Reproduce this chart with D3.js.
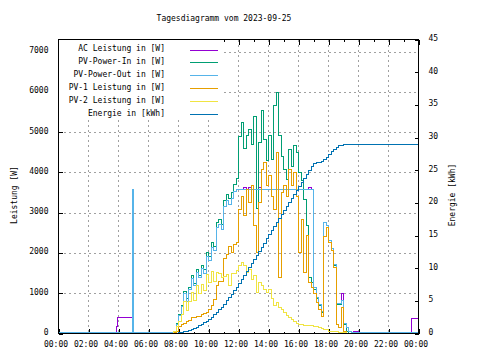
<!DOCTYPE html>
<html><head><meta charset="utf-8">
<script src="https://cdn.jsdelivr.net/npm/d3@7/dist/d3.min.js"></script>
<style>
body{margin:0;background:#fff}
svg{display:block}
text{font-family:"DejaVu Sans Mono",monospace;font-size:8px;fill:#000}
</style>
</head><body>
<svg id="c" width="480" height="360"></svg>
<script>
const title = "Tagesdiagramm vom 2023-09-25";
const xTickLabels = ["00:00","02:00","04:00","06:00","08:00","10:00","12:00","14:00","16:00","18:00","20:00","22:00","00:00"];
const leftTicks = [0,1000,2000,3000,4000,5000,6000,7000];
const rightTicks = [0,5,10,15,20,25,30,35,40,45];
const seriesNames = ["AC Leistung in [W]","PV-Power-In in [W]","PV-Power-Out in [W]","PV-1 Leistung in [W]","PV-2 Leistung in [W]","Energie in [kWh]"];
const seriesColors = ["#9400d3","#009e73","#56b4e9","#e69f00","#f0e442","#0072b2"];

const times = ["00:00","03:51","03:55","04:55","04:56","05:00","06:00","07:20",
 "07:30","07:40","07:50",
 "08:00","08:10","08:20","08:30","08:40","08:50",
 "09:00","09:10","09:20","09:30","09:40","09:50",
 "10:00","10:10","10:20","10:30","10:40","10:50",
 "11:00","11:10","11:20","11:30","11:40","11:50",
 "12:00","12:10","12:20","12:30","12:40","12:50",
 "13:00","13:10","13:20","13:30","13:40","13:50",
 "14:00","14:10","14:20","14:30","14:40","14:50",
 "15:00","15:10","15:20","15:30","15:40","15:50",
 "16:00","16:10","16:20","16:30","16:40","16:50",
 "17:00","17:10","17:20","17:30","17:40","17:50",
 "18:00","18:10","18:20","18:30","18:40","18:50",
 "19:00","19:10","19:20","19:30","19:40","19:50",
 "20:00","23:30","24:00"];

const acPower = [0,180,390,1975,1975,0,0,20,
 25,50,230,
 450,660,1000,800,1090,1360,
 1180,1520,1380,1620,1500,1900,
 1810,2140,2050,2620,2700,2570,
 3150,3300,3200,3350,3530,3580,
 3580,3580,3630,3580,3630,3580,
 3580,3580,3630,3580,3580,3580,
 3580,3580,3580,3580,3580,3580,
 3580,3580,3580,3580,3580,3580,
 3580,3580,3580,3580,3630,3580,
 1150,900,720,540,2760,2690,
 2320,2120,1720,750,745,1000,
 250,150,60,25,50,50,
 0,380,380];

const pvPowerIn = [0,0,0,0,0,0,0,0,
 0,60,250,
 480,700,1050,860,1150,1430,
 1250,1600,1450,1700,1580,2000,
 1900,2250,2150,2750,2830,2700,
 3300,3450,3350,3500,3700,3850,
 4900,5235,4600,4905,5070,4700,
 5400,3100,4738,5525,4822,4300,
 4905,4325,5650,5980,4905,4400,
 4077,3829,4573,4159,4656,4490,
 3993,3800,3332,2670,1400,1262,
 1097,880,700,518,2751,2670,
 2300,2100,1700,730,725,807,
 228,40,0,0,0,0,
 0,0,0];

const pvPowerOut = [25,25,25,25,3580,25,25,25,
 25,50,230,
 450,660,1000,800,1090,1360,
 1180,1520,1380,1620,1500,1900,
 1810,2140,2050,2620,2700,2570,
 3150,3300,3200,3350,3530,3580,
 3580,3580,3580,3580,3580,3580,
 3580,3580,3580,3580,3580,3580,
 3580,3580,3580,3580,3580,3580,
 3580,3580,3580,3580,3580,3580,
 3580,3580,3580,3580,3580,3580,
 1150,900,720,540,2760,2690,
 2320,2120,1720,750,745,830,
 250,150,60,25,25,25,
 25,25,25];

const pv1Power = [0,0,0,0,0,0,0,0,
 0,20,60,
 170,220,260,300,330,390,
 400,410,430,460,490,520,
 600,683,850,1200,1300,1290,
 1850,1950,2170,2010,2200,2260,
 3080,3414,2918,3580,3248,3663,
 2670,2007,3248,4077,4241,3663,
 3911,3414,3084,4490,1400,3497,
 3663,3414,4077,3663,3993,3414,
 2007,2836,1510,2421,1262,1137,
 1000,780,600,430,2400,2627,
 2250,2049,1650,228,144,640,
 62,0,0,0,0,0,
 0,0,0];

const pv2Power = [0,0,0,0,0,0,0,0,
 0,40,186,
 300,480,790,560,800,1020,
 820,1180,1000,1220,1080,1460,
 1260,1530,1280,1520,1500,1380,
 1420,1460,1200,1480,1500,1560,
 1700,1760,1680,1520,1600,1350,
 1450,1013,1262,1180,1100,1013,
 1097,870,700,760,640,590,
 518,450,400,360,290,240,
 230,220,210,200,195,190,
 180,165,150,130,110,100,
 62,55,48,40,30,22,
 15,8,0,0,0,0,
 0,0,0];

const energy = [null,null,null,null,null,null,0,0,
 0,0,0.05,
 0.1,0.15,0.25,0.35,0.5,0.6,
 0.75,0.95,1.15,1.4,1.65,1.9,
 2.2,2.5,2.85,3.2,3.6,4.05,
 4.5,5.0,5.5,6.0,6.55,7.1,
 7.65,8.27,8.89,9.51,10.13,10.75,
 11.37,11.99,12.61,13.23,13.85,14.47,
 15.09,15.71,16.33,16.95,17.57,18.19,
 18.81,19.43,20.05,20.67,21.29,21.91,
 22.53,23.15,23.77,24.39,25.01,25.6,
 25.95,26.1,26.2,26.3,26.6,27.0,
 27.4,27.8,28.2,28.5,28.7,28.85,
 28.95,29.0,29.0,29.0,29.0,29.0,
 29.0,29.0,29.05];

const parseT = s => { const [h,m] = s.split(":").map(Number); return h + m/60; };
const hours = times.map(parseT);

const svg = d3.select("#c");
const L = 58.5, R = 418.5, T = 39.5, B = 333.5;
const x = d3.scaleLinear().domain([0,24]).range([L,R]);
const y = d3.scaleLinear().domain([0,7300]).range([B,T]);
const y2 = d3.scaleLinear().domain([0,45]).range([B,T]);

// grid
const grid = svg.append("g").attr("stroke","#a0a0a0").attr("stroke-dasharray","2,3").attr("shape-rendering","crispEdges");
grid.selectAll("line.h").data(leftTicks.slice(1)).enter().append("line")
  .attr("x1",L).attr("x2",R).attr("y1",d=>Math.round(y(d))+0.5).attr("y2",d=>Math.round(y(d))+0.5);
const xMajor = d3.range(0,25,2);
grid.selectAll("line.v").data(xMajor.slice(1,-1)).enter().append("line")
  .attr("y1",T).attr("y2",B).attr("x1",d=>x(d)).attr("x2",d=>x(d));

// axes
const fmtX = (d,i) => xTickLabels[xMajor.indexOf(d)];
const axB = svg.append("g").attr("transform",`translate(0,${B})`)
  .call(d3.axisBottom(x).tickValues(xMajor).tickFormat(fmtX).tickSizeInner(-5).tickSizeOuter(0).tickPadding(8));
axB.selectAll("text").attr("dx",-3);
svg.append("g").attr("transform",`translate(0,${B})`)
  .call(d3.axisBottom(x).tickValues(d3.range(1,24,2)).tickFormat("").tickSizeInner(-2).tickSizeOuter(0));
svg.append("g").attr("transform",`translate(0,${T})`)
  .call(d3.axisTop(x).tickValues(xMajor).tickFormat("").tickSizeInner(-5).tickSizeOuter(0));
svg.append("g").attr("transform",`translate(0,${T})`)
  .call(d3.axisTop(x).tickValues(d3.range(1,24,2)).tickFormat("").tickSizeInner(-2).tickSizeOuter(0));
const axL = svg.append("g").attr("transform",`translate(${L},0)`)
  .call(d3.axisLeft(y).tickValues(leftTicks).tickFormat(d3.format("d")).tickSizeInner(-4).tickSizeOuter(0).tickPadding(10));
axL.selectAll("text").attr("dy","1px");
const axR = svg.append("g").attr("transform",`translate(${R},0)`)
  .call(d3.axisRight(y2).tickValues(rightTicks).tickFormat(d3.format("d")).tickSizeInner(-4).tickSizeOuter(0).tickPadding(10));
axR.selectAll("text").attr("dy","1px");
svg.selectAll(".domain").remove();
svg.selectAll(".tick line").attr("stroke","#000").attr("shape-rendering","crispEdges");
svg.selectAll(".tick text").attr("font-family",null).attr("font-size",null).style("font-family",'"DejaVu Sans Mono",monospace').style("font-size","8px");
svg.selectAll("g").attr("font-family",null).attr("font-size",null);

// legend background (opaque key)
svg.append("rect").attr("x",L+0.5).attr("y",T+0.5).attr("width",165).attr("height",79).attr("fill","#fff");

// data lines
const valueSets = [acPower,pvPowerIn,pvPowerOut,pv1Power,pv2Power,energy];
const plot = svg.append("g").attr("fill","none").attr("stroke-width",1).attr("shape-rendering","crispEdges");
valueSets.forEach((vals,i) => {
  const sc = i === 5 ? y2 : y;
  const data = hours.map((h,j) => ({h, v: vals[j]}));
  const line = d3.line().defined(d => d.v != null).x(d => x(d.h)).y(d => sc(d.v)).curve(d3.curveStepAfter);
  plot.append("path").datum(data).attr("d",line).attr("stroke",seriesColors[i]);
});

// border
svg.append("rect").attr("x",L).attr("y",T).attr("width",R-L).attr("height",B-T)
  .attr("fill","none").attr("stroke","#000").attr("shape-rendering","crispEdges");

// legend
const lg = svg.append("g");
seriesNames.forEach((n,i) => {
  const yy = 49.5 + i*12.9;
  lg.append("text").attr("x",165).attr("y",yy+1.5).attr("text-anchor","end").text(n);
  lg.append("line").attr("x1",190).attr("x2",218).attr("y1",Math.round(yy)+0.5).attr("y2",Math.round(yy)+0.5)
    .attr("stroke",seriesColors[i]).attr("shape-rendering","crispEdges");
});

// titles
svg.append("text").attr("x",224).attr("y",21).attr("text-anchor","middle").text(title);
svg.append("text").attr("transform","translate(17,195) rotate(-90)").attr("text-anchor","middle").text("Leistung [W]");
svg.append("text").attr("transform","translate(455,195) rotate(-90)").attr("text-anchor","middle").text("Energie [kWh]");
</script>
</body></html>
